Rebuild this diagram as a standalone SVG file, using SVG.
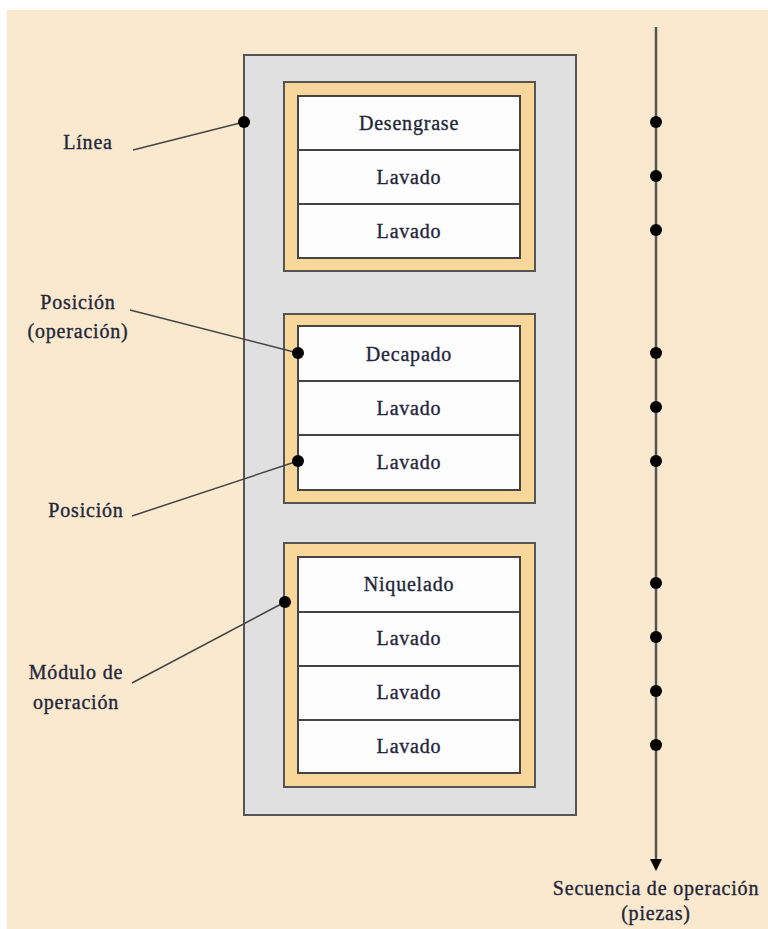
<svg xmlns="http://www.w3.org/2000/svg" width="768" height="929" viewBox="0 0 768 929">
<defs>
<style>
text{font-family:"Liberation Serif","Times New Roman",serif;font-size:20px;fill:#23263a;stroke:#23263a;stroke-width:0.35;letter-spacing:0.8px;text-anchor:middle;dominant-baseline:central}
.line{fill:#e0e0e0;stroke:#555;stroke-width:2}
.frame{fill:#f9d699;stroke:#555;stroke-width:2}
.cell{fill:#fdfdfd;stroke:#444;stroke-width:2}
.lead{stroke:#444;stroke-width:1.5;fill:none}
.dot{fill:#000}
</style>
<marker id="arr" markerWidth="12" markerHeight="12" refX="10" refY="6" orient="auto" markerUnits="userSpaceOnUse" viewBox="0 0 12 12">
<path d="M0,0 L12,6 L0,12 z" fill="#000"/>
</marker>
</defs>
<rect x="0" y="0" width="768" height="929" fill="#ffffff"/>
<rect x="7" y="10" width="761" height="919" fill="#fae9cf"/>

<g id="linea">
<rect class="line" x="244" y="55" width="332" height="760"/>
</g>

<g id="modulo1">
<rect class="frame" x="284" y="82" width="251" height="189"/>
<rect class="cell" x="298" y="96" width="222" height="54"/>
<rect class="cell" x="298" y="150" width="222" height="54"/>
<rect class="cell" x="298" y="204" width="222" height="54"/>
<text x="409" y="123">Desengrase</text>
<text x="409" y="177">Lavado</text>
<text x="409" y="231">Lavado</text>
</g>

<g id="modulo2">
<rect class="frame" x="284" y="314" width="251" height="189"/>
<rect class="cell" x="298" y="326" width="222" height="55"/>
<rect class="cell" x="298" y="381" width="222" height="54"/>
<rect class="cell" x="298" y="435" width="222" height="55"/>
<text x="409" y="354">Decapado</text>
<text x="409" y="408">Lavado</text>
<text x="409" y="462">Lavado</text>
</g>

<g id="modulo3">
<rect class="frame" x="284" y="543" width="251" height="244"/>
<rect class="cell" x="298" y="557" width="222" height="55"/>
<rect class="cell" x="298" y="612" width="222" height="54"/>
<rect class="cell" x="298" y="666" width="222" height="54"/>
<rect class="cell" x="298" y="720" width="222" height="53"/>
<text x="409" y="584">Niquelado</text>
<text x="409" y="638">Lavado</text>
<text x="409" y="692">Lavado</text>
<text x="409" y="746">Lavado</text>
</g>

<g id="label-linea"><text x="88" y="142">Línea</text></g>
<g id="label-posicion-operacion"><text x="78" y="302">Posición</text><text x="78" y="331">(operación)</text></g>
<g id="label-posicion"><text x="86" y="510">Posición</text></g>
<g id="label-modulo"><text x="76" y="672">Módulo de</text><text x="76" y="702">operación</text></g>
<g id="label-secuencia"><text x="656" y="888">Secuencia de operación</text><text x="656" y="913">(piezas)</text></g>

<g id="connectors">
<path class="lead" d="M133,150 L244,122"/>
<path class="lead" d="M130,310 L298,353"/>
<path class="lead" d="M132,516 L298,461"/>
<path class="lead" d="M132,683 L285,602"/>
<circle class="dot" cx="244" cy="122" r="6"/>
<circle class="dot" cx="298" cy="353" r="6"/>
<circle class="dot" cx="298" cy="461" r="6"/>
<circle class="dot" cx="285" cy="602" r="6"/>
<path d="M656,27 L656,869" stroke="#555" stroke-width="2.5" fill="none" marker-end="url(#arr)"/>
<circle class="dot" cx="656" cy="122" r="6"/>
<circle class="dot" cx="656" cy="176" r="6"/>
<circle class="dot" cx="656" cy="230" r="6"/>
<circle class="dot" cx="656" cy="353" r="6"/>
<circle class="dot" cx="656" cy="407" r="6"/>
<circle class="dot" cx="656" cy="461" r="6"/>
<circle class="dot" cx="656" cy="583" r="6"/>
<circle class="dot" cx="656" cy="637" r="6"/>
<circle class="dot" cx="656" cy="691" r="6"/>
<circle class="dot" cx="656" cy="745" r="6"/>
</g>
</svg>
